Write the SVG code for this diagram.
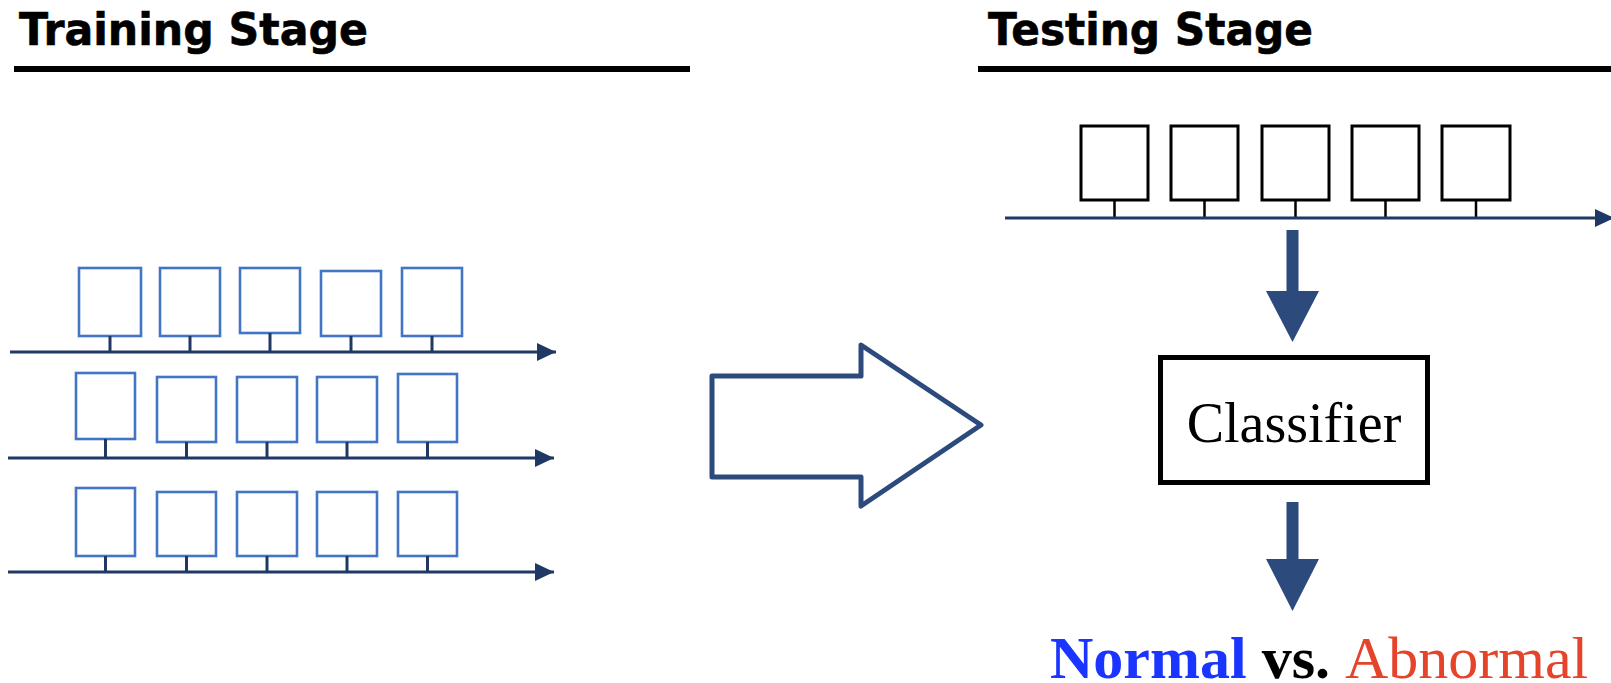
<svg xmlns="http://www.w3.org/2000/svg" width="1611" height="683" viewBox="0 0 1611 683">
  <style>
    .heading { font-family: "DejaVu Sans", "Liberation Sans", sans-serif; font-weight: bold; font-size: 44px; fill: #000; stroke: #000; stroke-width: 0.6; }
    .rule { stroke: #000; stroke-width: 6; }
    .frame-blue { fill: #fff; stroke: #4275c4; stroke-width: 2.6; }
    .frame-black { fill: #fff; stroke: #000; stroke-width: 3; }
    .axis { stroke: #1f3864; stroke-width: 3; fill: none; }
    .stem-navy { stroke: #1f3864; stroke-width: 3; }
    .stem-black { stroke: #000; stroke-width: 2.5; }
    .serif { font-family: "Liberation Serif", "Times New Roman", serif; }
  </style>
  <defs>
    <marker id="axisHead" viewBox="0 0 20 20" refX="19" refY="10" markerWidth="20" markerHeight="20" markerUnits="userSpaceOnUse" orient="auto">
      <path d="M0,1 L19,10 L0,19 Z" fill="#1f3864"/>
    </marker>
  </defs>

  <rect width="1611" height="683" fill="#fff"/>

  <!-- section headings -->
  <g id="training-heading">
    <text class="heading" x="19" y="45" textLength="349" lengthAdjust="spacingAndGlyphs">Training Stage</text>
    <line class="rule" x1="14" y1="69" x2="690" y2="69"/>
  </g>
  <g id="testing-heading">
    <text class="heading" x="988" y="45" textLength="325" lengthAdjust="spacingAndGlyphs">Testing Stage</text>
    <line class="rule" x1="978" y1="69" x2="1611" y2="69"/>
  </g>

  <!-- training sequences -->
  <g id="train-seq-1">
    <rect class="frame-blue" x="79" y="268" width="62" height="68"/>
    <rect class="frame-blue" x="160" y="268" width="60" height="68"/>
    <rect class="frame-blue" x="240" y="268" width="60" height="65"/>
    <rect class="frame-blue" x="321" y="271" width="60" height="65"/>
    <rect class="frame-blue" x="402" y="268" width="60" height="68"/>
    <line class="stem-navy" x1="110" y1="336" x2="110" y2="352"/>
    <line class="stem-navy" x1="190" y1="336" x2="190" y2="352"/>
    <line class="stem-navy" x1="270" y1="333" x2="270" y2="352"/>
    <line class="stem-navy" x1="351" y1="336" x2="351" y2="352"/>
    <line class="stem-navy" x1="432" y1="336" x2="432" y2="352"/>
  </g>
  <g id="train-seq-2">
    <rect class="frame-blue" x="76" y="373" width="59" height="66"/>
    <rect class="frame-blue" x="157" y="377" width="59" height="65"/>
    <rect class="frame-blue" x="237" y="377" width="60" height="65"/>
    <rect class="frame-blue" x="317" y="377" width="60" height="65"/>
    <rect class="frame-blue" x="398" y="374" width="59" height="68"/>
    <line class="stem-navy" x1="105.5" y1="439" x2="105.5" y2="458"/>
    <line class="stem-navy" x1="186.5" y1="442" x2="186.5" y2="458"/>
    <line class="stem-navy" x1="267" y1="442" x2="267" y2="458"/>
    <line class="stem-navy" x1="347" y1="442" x2="347" y2="458"/>
    <line class="stem-navy" x1="427.5" y1="442" x2="427.5" y2="458"/>
  </g>
  <g id="train-seq-3">
    <rect class="frame-blue" x="76" y="488" width="59" height="68"/>
    <rect class="frame-blue" x="157" y="492" width="59" height="64"/>
    <rect class="frame-blue" x="237" y="492" width="60" height="64"/>
    <rect class="frame-blue" x="317" y="492" width="60" height="64"/>
    <rect class="frame-blue" x="398" y="492" width="59" height="64"/>
    <line class="stem-navy" x1="105.5" y1="556" x2="105.5" y2="572"/>
    <line class="stem-navy" x1="186.5" y1="556" x2="186.5" y2="572"/>
    <line class="stem-navy" x1="267" y1="556" x2="267" y2="572"/>
    <line class="stem-navy" x1="347" y1="556" x2="347" y2="572"/>
    <line class="stem-navy" x1="427.5" y1="556" x2="427.5" y2="572"/>
  </g>

  <!-- test sequence -->
  <g id="test-seq">
    <rect class="frame-black" x="1081" y="126" width="67" height="74"/>
    <rect class="frame-black" x="1171" y="126" width="67" height="74"/>
    <rect class="frame-black" x="1262" y="126" width="67" height="74"/>
    <rect class="frame-black" x="1352" y="126" width="67" height="74"/>
    <rect class="frame-black" x="1442" y="126" width="68" height="74"/>
    <line class="stem-black" x1="1114.5" y1="200" x2="1114.5" y2="218"/>
    <line class="stem-black" x1="1204.5" y1="200" x2="1204.5" y2="218"/>
    <line class="stem-black" x1="1295.5" y1="200" x2="1295.5" y2="218"/>
    <line class="stem-black" x1="1385.5" y1="200" x2="1385.5" y2="218"/>
    <line class="stem-black" x1="1476" y1="200" x2="1476" y2="218"/>
  </g>

  <!-- classifier -->
  <g id="classifier">
    <rect x="1160.5" y="357.5" width="267" height="125" fill="#fff" stroke="#000" stroke-width="5"/>
    <text class="serif" x="1294" y="442" font-size="56" text-anchor="middle" fill="#000">Classifier</text>
  </g>

  <!-- result label -->
  <g id="result">
    <text class="serif" x="1050" y="678" font-size="60"><tspan font-weight="bold" fill="#1a35ff">Normal</tspan><tspan font-weight="bold" fill="#000"> vs. </tspan><tspan fill="#e5432a">Abnormal</tspan></text>
  </g>

  <!-- connectors -->
  <g id="connectors">
    <!-- time axes -->
    <line class="axis" x1="10" y1="352" x2="556" y2="352" marker-end="url(#axisHead)"/>
    <line class="axis" x1="8" y1="458" x2="554" y2="458" marker-end="url(#axisHead)"/>
    <line class="axis" x1="8" y1="572" x2="554" y2="572" marker-end="url(#axisHead)"/>
    <line class="axis" x1="1005" y1="218" x2="1614" y2="218" marker-end="url(#axisHead)"/>
    <!-- stage transition -->
    <polygon points="712,376 861,376 861,345 981,425 861,506 861,477 712,477" fill="#fff" stroke="#2c4a7c" stroke-width="5" stroke-linejoin="round"/>
    <!-- sequence to classifier -->
    <path d="M1286.5,230 H1298.5 V291 H1319 L1292.5,342 L1266,291 H1286.5 Z" fill="#2c4a7c"/>
    <!-- classifier to result -->
    <path d="M1286.5,502 H1298.5 V559 H1319 L1292.5,611 L1266,559 H1286.5 Z" fill="#2c4a7c"/>
  </g>
</svg>
